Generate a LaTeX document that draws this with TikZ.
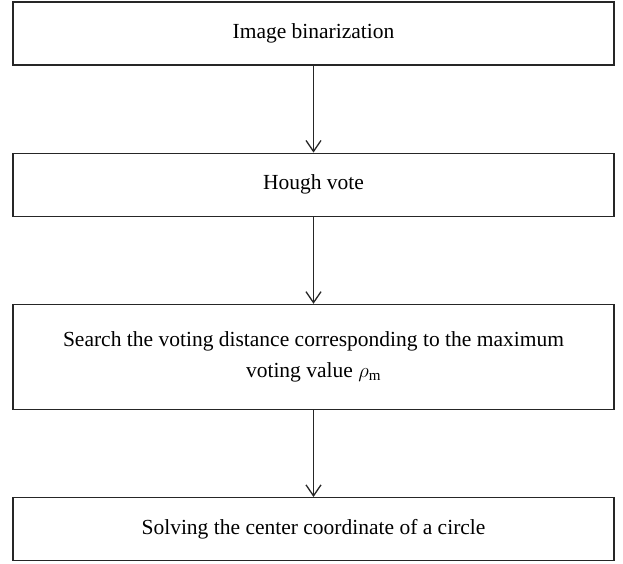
\documentclass[tikz,border=0pt]{standalone}
\usepackage{fontspec}
\setmainfont{Liberation Serif}
\usetikzlibrary{positioning,arrows.meta}
\tikzset{
  stepbox/.style={draw=black!85,line width=1.2pt,minimum width=601pt,minimum height=63pt,
    align=center,font=\fontsize{21.5}{31}\selectfont},
  flow/.style={-{Straight Barb[length=11pt,width=15pt]},line width=1.3pt,draw=black!85}
}
\begin{document}
\begin{tikzpicture}
\useasboundingbox (0,0) rectangle (623pt,-563pt);
\node[stepbox] (bin) at (313.5pt,-33.5pt) {Image binarization};
\node[stepbox,below=87pt of bin] (vote) {Hough vote};
\node[stepbox,below=87pt of vote,minimum height=105pt] (search) {Search the voting distance corresponding to the maximum\\voting value $\rho_{\mathrm{m}}$};
\node[stepbox,below=87pt of search] (centre) {Solving the center coordinate of a circle};
\draw[flow] (bin) -- (vote);
\draw[flow] (vote) -- (search);
\draw[flow] (search) -- (centre);
\end{tikzpicture}
\end{document}
